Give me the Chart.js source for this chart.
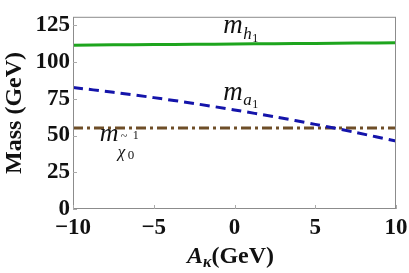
<!DOCTYPE html>
<html>
<head>
<meta charset="utf-8">
<script src="https://cdn.jsdelivr.net/npm/chart.js@4.4.0/dist/chart.umd.min.js"></script>
<style>
  html, body { margin: 0; padding: 0; background: #fff; }
  canvas { display: block; }
</style>
</head>
<body>
<canvas id="massChart" width="409" height="273"></canvas>
<script>
// A_kappa values (GeV)
const akappa = [-10, -7.5, -5, -2.5, 0, 2.5, 5, 7.5, 10];
// masses (GeV)
const mH1 = [111.5, 111.7, 111.9, 112.1, 112.3, 112.5, 112.7, 112.9, 113.1];
const mA1 = [82.7, 79.4, 75.8, 71.8, 67.4, 62.7, 57.6, 52.1, 46.2];
const mChi = [55.2, 55.2, 55.2, 55.2, 55.2, 55.2, 55.2, 55.2, 55.2];
const yTicks = [0, 25, 50, 75, 100, 125];
const xTicks = [-10, -5, 0, 5, 10];

const serif = "'Liberation Serif', 'DejaVu Serif', serif";

function pts(ys) {
    return akappa.map((x, i) => ({ x: x, y: ys[i] }));
}

// frame, inward ticks and text labels
const decor = {
    id: 'decor',
    afterDraw(chart) {
        const c = chart.ctx;
        const a = chart.chartArea;
        const xs = chart.scales.x, ys = chart.scales.y;
        c.save();
        c.strokeStyle = '#8c8c8c';
        c.lineWidth = 1;
        c.strokeRect(a.left + 0.5, a.top + 0.5, a.right - a.left - 1, a.bottom - a.top - 1);
        c.strokeStyle = '#aaa';
        yTicks.forEach(v => {
            const y = Math.round(ys.getPixelForValue(v)) + 0.5;
            c.beginPath(); c.moveTo(a.left, y); c.lineTo(a.left + 4, y); c.stroke();
        });
        xTicks.forEach(v => {
            const x = Math.round(xs.getPixelForValue(v)) + 0.5;
            c.beginPath(); c.moveTo(x, a.bottom); c.lineTo(x, a.bottom - 4); c.stroke();
        });

        c.fillStyle = '#111';
        c.textBaseline = 'alphabetic';
        c.textAlign = 'left';
        // m_{h1}
        let x0 = xs.getPixelForValue(-0.7), y0 = ys.getPixelForValue(120);
        c.font = 'italic 27px ' + serif;
        c.fillText('m', x0, y0);
        c.font = 'italic 17px ' + serif;
        c.fillText('h', x0 + 20, y0 + 6);
        c.font = '12px ' + serif;
        c.fillText('1', x0 + 29, y0 + 9);
        // m_{a1}
        y0 = ys.getPixelForValue(74);
        c.font = 'italic 27px ' + serif;
        c.fillText('m', x0, y0);
        c.font = 'italic 17px ' + serif;
        c.fillText('a', x0 + 20, y0 + 5);
        c.font = '12px ' + serif;
        c.fillText('1', x0 + 29, y0 + 8);
        // m_{chi~ 0 1}
        x0 = xs.getPixelForValue(-8.35); y0 = ys.getPixelForValue(46);
        c.font = 'italic 26px ' + serif;
        c.fillText('m', x0, y0);
        c.font = '12px ' + serif;
        c.fillText('~', x0 + 21, y0 - 1);
        c.font = '12px ' + serif;
        c.fillText('1', x0 + 33, y0 - 2);
        c.font = 'italic 17px ' + serif;
        c.fillText('\u03C7', x0 + 18, y0 + 16);
        c.font = '13px ' + serif;
        c.fillText('0', x0 + 28, y0 + 18);

        // x axis title A_kappa(GeV)
        const cx = (a.left + a.right) / 2;
        const ty = 263;
        c.font = 'bold italic 24px ' + serif;
        const wA = c.measureText('A').width;
        c.font = 'bold italic 16px ' + serif;
        const wk = c.measureText('\u03BA').width;
        c.font = 'bold 24px ' + serif;
        const wG = c.measureText('(GeV)').width;
        let px = cx - (wA + wk + wG) / 2 - 4;
        c.font = 'bold italic 24px ' + serif;
        c.fillText('A', px, ty);
        px += wA;
        c.font = 'bold italic 16px ' + serif;
        c.fillText('\u03BA', px, ty + 4);
        px += wk;
        c.font = 'bold 24px ' + serif;
        c.fillText('(GeV)', px, ty);
        c.restore();
    }
};

const ctx = document.getElementById('massChart').getContext('2d');
const massChart = new Chart(ctx, {
    type: 'line',
    data: {
        datasets: [{
            label: 'm_h1',
            data: pts(mH1),
            borderColor: 'rgb(30, 165, 30)',
            borderWidth: 3,
            pointRadius: 0,
            tension: 0.3
        }, {
            label: 'm_a1',
            data: pts(mA1),
            borderColor: 'rgb(20, 20, 170)',
            borderWidth: 3,
            borderDash: [10, 6],
            pointRadius: 0,
            tension: 0.3
        }, {
            label: 'm_chi',
            data: pts(mChi),
            borderColor: 'rgb(110, 78, 40)',
            borderWidth: 3,
            borderDash: [10, 4, 3, 4],
            pointRadius: 0
        }]
    },
    options: {
        responsive: false,
        animation: false,
        devicePixelRatio: 1,
        layout: { padding: { left: 0, right: 13, top: 5, bottom: 0 } },
        plugins: {
            legend: { display: false },
            tooltip: { enabled: false }
        },
        scales: {
            x: {
                type: 'linear',
                min: -10,
                max: 10,
                afterFit(scale) { scale.height = 64; scale.paddingRight = 0; },
                afterBuildTicks(scale) { scale.ticks = xTicks.map(v => ({ value: v })); },
                grid: { display: false, drawTicks: false },
                border: { display: false },
                ticks: {
                    color: '#111',
                    padding: 5,
                    maxRotation: 0,
                    font: { family: serif, size: 23, weight: 'bold' },
                    callback: v => String(v).replace('-', '\u2212')
                }
            },
            y: {
                min: 0,
                max: 130.8,
                afterFit(scale) { scale.width = 73; },
                afterBuildTicks(scale) { scale.ticks = yTicks.map(v => ({ value: v })); },
                grid: { display: false, drawTicks: false },
                border: { display: false },
                ticks: {
                    color: '#111',
                    padding: 3,
                    font: { family: serif, size: 23, weight: 'bold' }
                },
                title: {
                    display: true,
                    text: 'Mass (GeV)',
                    color: '#111',
                    padding: 0,
                    font: { family: serif, size: 24, weight: 'bold' }
                }
            }
        }
    },
    plugins: [decor]
});
</script>
</body>
</html>
